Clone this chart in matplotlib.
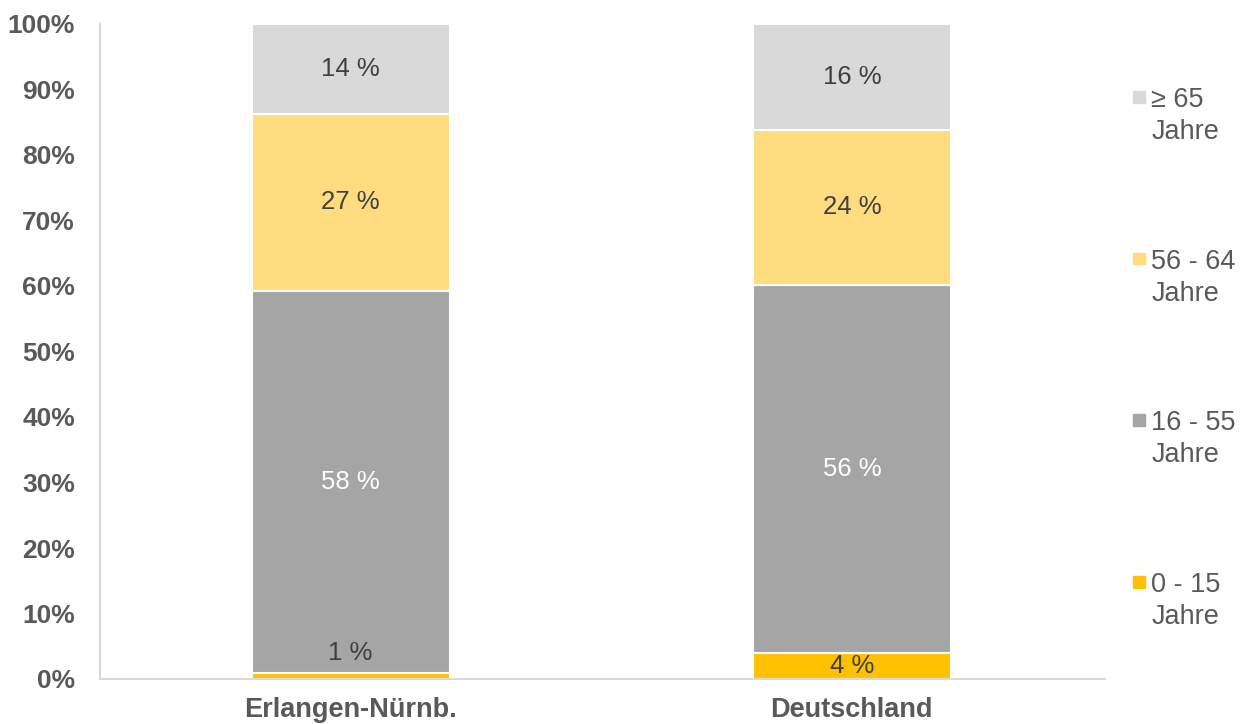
import numpy as np
import matplotlib.pyplot as plt
from matplotlib.patches import Rectangle

plt.rcParams['font.family'] = ['Liberation Sans', 'DejaVu Sans']

categories = ['Erlangen-Nürnb.', 'Deutschland']
groups = ['0 - 15\nJahre', '16 - 55\nJahre', '56 - 64\nJahre', '≥ 65\nJahre']
shares = {
    '0 - 15\nJahre': [0.9, 4.0],
    '16 - 55\nJahre': [58.3, 56.2],
    '56 - 64\nJahre': [27.1, 23.6],
    '≥ 65\nJahre': [13.7, 16.2],
}
shown = {
    '0 - 15\nJahre': [1, 4],
    '16 - 55\nJahre': [58, 56],
    '56 - 64\nJahre': [27, 24],
    '≥ 65\nJahre': [14, 16],
}
colors = ['#FFC000', '#A5A5A5', '#FFDC80', '#D9D9D9']
label_colors = ['#404040', 'white', '#404040', '#404040']

fig = plt.figure(figsize=(12.42, 7.24), dpi=100)
ax = fig.add_axes([100 / 1242, 45 / 724, 1005 / 1242, 655 / 724])

x = np.arange(len(categories))
bottom = np.zeros(len(categories))
for g, c, lc in zip(groups, colors, label_colors):
    vals = np.array(shares[g])
    ax.bar(x, vals, 0.395, bottom=bottom, color=c, edgecolor='white', linewidth=1.5, zorder=2)
    for xi, b, v, s in zip(x, bottom, vals, shown[g]):
        if v < 2:
            ax.text(xi, b + v + 3, f'{s} %', ha='center', va='center', fontsize=18.5, color='#404040', zorder=3)
        else:
            ax.text(xi, b + v / 2, f'{s} %', ha='center', va='center', fontsize=18.5, color=lc, zorder=3)
    bottom += vals

ax.set_xlim(-0.5, 1.505)
ax.set_ylim(0, 100)
ax.set_yticks(np.arange(0, 101, 10))
ax.set_yticklabels([f'{v}%' for v in range(0, 101, 10)])
ax.set_xticks(x)
ax.set_xticklabels(categories)
ax.tick_params(axis='y', length=0, pad=18, labelsize=19, labelcolor='#595959')
ax.tick_params(axis='x', length=0, pad=13, labelsize=19.5, labelcolor='#595959')
for lab in ax.get_xticklabels() + ax.get_yticklabels():
    lab.set_fontweight('bold')
for s in ['top', 'right']:
    ax.spines[s].set_visible(False)
for s in ['left', 'bottom']:
    ax.spines[s].set_color('#D9D9D9')
    ax.spines[s].set_linewidth(1.5)

# legend, top to bottom
for i, (g, c) in enumerate(zip(groups[::-1], colors[::-1])):
    yy = 0.889 - i * 0.247
    ax.add_patch(Rectangle((1.0275, yy - 0.009), 0.012, 0.018, transform=ax.transAxes,
                           color=c, clip_on=False))
    ax.text(1.046, yy + 0.015, g, transform=ax.transAxes, ha='left', va='top',
            fontsize=19.5, color='#595959', linespacing=1.3)

fig.savefig('out.png', dpi=100)
